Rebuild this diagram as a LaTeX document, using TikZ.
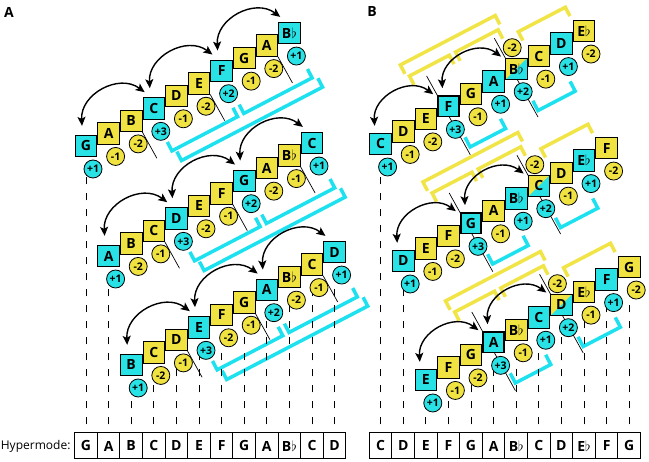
\documentclass[tikz,border=0pt]{standalone}
\usepackage{fontspec}
\setmainfont{Open Sans}
\usetikzlibrary{positioning,arrows.meta,backgrounds}
\definecolor{cy}{RGB}{40,226,230}
\definecolor{ye}{RGB}{240,226,64}
\definecolor{cybr}{RGB}{30,225,240}
\definecolor{yebr}{RGB}{240,228,70}

\begin{document}
\begin{tikzpicture}[x=1pt,y=-1pt,on grid,
    sq/.style={draw,line width=0.8pt,minimum size=21.5pt,inner sep=0pt,font=\bfseries\fontsize{14}{14}\selectfont},
    sqc/.style={sq,fill=cy},
    sqy/.style={sq,fill=ye},
    sqt/.style={sqc,line width=1.8pt,minimum size=20.5pt},
    sqs/.style={sqc,path picture={\fill[ye] (path picture bounding box.south west) -- (path picture bounding box.north west) -- (path picture bounding box.north east) -- cycle;}},
    num/.style={draw,circle,line width=0.8pt,minimum size=18pt,inner sep=0pt,font=\bfseries\fontsize{10.5}{10.5}\selectfont},
    numc/.style={num,fill=cy},
    numy/.style={num,fill=ye},
    numt/.style={numc},
    nums/.style={numc},
    hyp/.style={draw,line width=1pt,minimum width=22.6pt,minimum height=26pt,inner sep=0pt,font=\bfseries\fontsize{14}{14}\selectfont},
    >={Stealth[length=9pt,width=8pt,inset=2pt]},
    jump/.style={<->,line width=1.4pt,bend left=65,looseness=1.15},
    guide/.style={line width=0.7pt,dash pattern=on 7pt off 9pt},
    brc/.style={cybr,line width=3.5pt},
    bry/.style={yebr,line width=3.5pt},
    cut/.style={line width=0.7pt}]
  \useasboundingbox (0,0) rectangle (649,462);

  \node[font=\bfseries\fontsize{14}{14}\selectfont] (labA) at (9,12) {A};
  \node[font=\bfseries\fontsize{14}{14}\selectfont] (labB) at (372,12) {B};

  % panel A
  \foreach \r/\yo/\row in {0/146/{G/c/+1,A/y/-1,B/y/-2,C/c/+3,D/y/-1,E/y/-2,F/c/+2,G/y/-1,A/y/-2,B$\flat$/c/+1},
      1/256/{A/c/+1,B/y/-2,C/y/-1,D/c/+3,E/y/-2,F/y/-1,G/c/+2,A/y/-2,B$\flat$/y/-1,C/c/+1},
      2/365/{B/c/+1,C/y/-2,D/y/-1,E/c/+3,F/y/-2,G/y/-1,A/c/+2,B$\flat$/y/-2,C/y/-1,D/c/+1}} {
    \foreach \l/\k/\n [count=\i from 0] in \row {
      \node[sq\k] (a\r-\i) at ({86+22.6*(\i+\r)},{\yo-12.55*\i}) {\l};
      \node[num\k] (na\r-\i) [below right=23pt and 7pt of a\r-\i] {\n};
    }
    \foreach \p/\q in {0/3,3/6,6/9}
      \draw[jump] ([shift={(-4,-9)}]a\r-\p.north) to ([shift={(2,-5)}]a\r-\q.north west);
    \begin{pgfonlayer}{background}
      \foreach \p in {2,5,8}
        \draw[cut,shift={(a\r-\p.south east)},rotate=29] (0,0) -- (0,30);
      \begin{scope}[shift={(a\r-0.center)},rotate=27.5]
        \draw[brc] (74,34) -- (74,44) -- (148,44) -- (148,34);
        \draw[brc] (155,34) -- (155,44) -- (232,44) -- (232,34);
        \draw[brc] (78,47) -- (78,57) -- (237,57) -- (237,47);
      \end{scope}
    \end{pgfonlayer}
  }

  % panel B
  \foreach \r/\yo/\row in {0/144/{C/c/+1,D/y/-1,E/y/-2,F/t/+3,G/y/-1,A/c/+1,B$\flat$/s/+2,C/y/-1,D/c/+1,E$\flat$/y/-2},
      1/261/{D/c/+1,E/y/-1,F/y/-2,G/t/+3,A/y/-1,B$\flat$/c/+1,C/s/+2,D/y/-1,E$\flat$/c/+1,F/y/-2},
      2/380/{E/c/+1,F/y/-1,G/y/-2,A/t/+3,B$\flat$/y/-1,C/c/+1,D/s/+2,E$\flat$/y/-1,F/c/+1,G/y/-2}} {
    \foreach \l/\k/\n [count=\i from 0] in \row {
      \node[sq\k] (b\r-\i) at ({380.6+22.6*(\i+\r)},{\yo-12.55*\i}) {\l};
      \node[num\k] (nb\r-\i) [below right=23pt and 7pt of b\r-\i] {\n};
    }
    \node[numy] (nx\r) [above left=21pt and 4pt of b\r-6] {-2};
    \foreach \p/\q in {0/3,3/6}
      \draw[jump] ([shift={(-6,-7)}]b\r-\p.north) to ([shift={(-4,-1)}]b\r-\q.north west);
    \begin{pgfonlayer}{background}
      \foreach \p in {3,6}
        \draw[cut,shift={(b\r-\p.north west)},rotate=29] (0,-22) -- (0,68);
      \begin{scope}[shift={(b\r-0.center)},rotate=27.5]
        \draw[bry] (54,-51) -- (54,-61) -- (161,-61) -- (161,-51);
        \draw[bry] (57,-37) -- (57,-47) -- (102,-47) -- (102,-37);
        \draw[bry] (109,-37) -- (109,-47) -- (157,-47) -- (157,-37);
        \draw[bry] (174,-26) -- (174,-36) -- (227,-36) -- (227,-26);
        \draw[brc] (78,33) -- (78,44) -- (118,44) -- (118,33);
        \draw[brc] (155,32) -- (155,43) -- (197,43) -- (197,32);
      \end{scope}
    \end{pgfonlayer}
  }

  % hypermode
  \node[anchor=east,font=\fontsize{12}{12}\selectfont] (hlab) at (74,446) {Hypermode:};
  \foreach \l [count=\k from 0] in {G,A,B,C,D,E,F,G,A,B$\flat$,C,D}
    \node[hyp] (ha-\k) at ({86+22.6*\k},446) {\l};
  \foreach \l [count=\k from 0] in {C,D,E,F,G,A,B$\flat$,C,D,E$\flat$,F,G}
    \node[hyp] (hb-\k) at ({380.6+22.6*\k},446) {\l};

  \begin{pgfonlayer}{background}
    \draw[guide] ([yshift=8pt]ha-0.north) -- ([yshift=-28pt]a0-0.center);
    \draw[guide] ([yshift=8pt]ha-1.north) -- ([yshift=-28pt]a1-0.center);
    \foreach \i [evaluate=\i as \k using int(\i+2)] in {0,...,9}
      \draw[guide] ([yshift=8pt]ha-\k.north) -- ([yshift=-28pt]a2-\i.center);
    \draw[guide] ([yshift=8pt]hb-0.north) -- ([yshift=-28pt]b0-0.center);
    \draw[guide] ([yshift=8pt]hb-1.north) -- ([yshift=-28pt]b1-0.center);
    \foreach \i [evaluate=\i as \k using int(\i+2)] in {0,...,9}
      \draw[guide] ([yshift=8pt]hb-\k.north) -- ([yshift=-28pt]b2-\i.center);
  \end{pgfonlayer}
\end{tikzpicture}
\end{document}
